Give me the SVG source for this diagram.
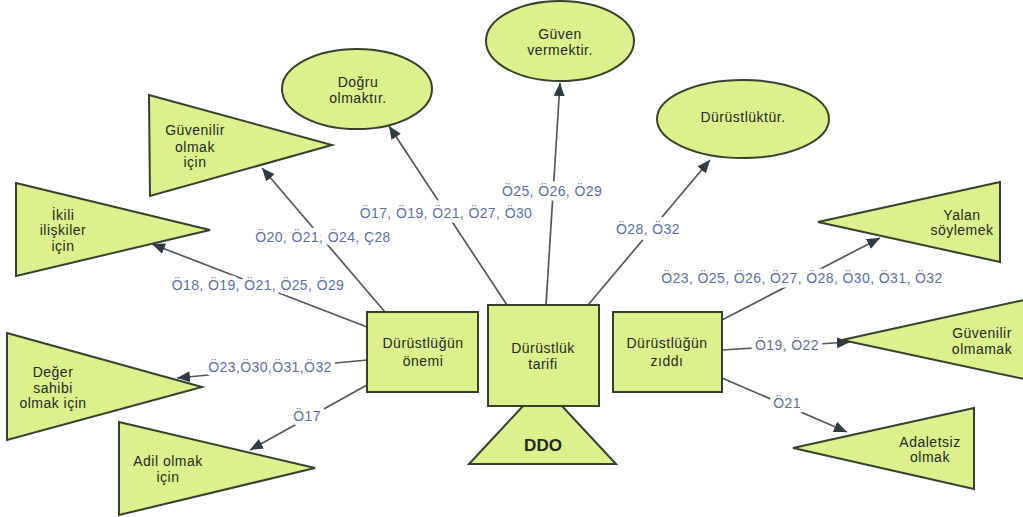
<svg xmlns="http://www.w3.org/2000/svg" width="1023" height="517" viewBox="0 0 1023 517">
  <style>
    .shape { fill: #dcf08e; stroke: #34412c; stroke-width: 2; }
    .txt { font-family: "Liberation Sans", Arial, sans-serif; font-size: 14px; letter-spacing: 0.5px; fill: #1f2a1c; text-anchor: middle; }
    .big { font-family: "Liberation Sans", Arial, sans-serif; font-size: 17px; font-weight: bold; fill: #1f2a1c; text-anchor: middle; }
    .edge { stroke: #52585d; stroke-width: 1.7; fill: none; marker-end: url(#arrow); }
    .lbl { font-family: "Liberation Sans", Arial, sans-serif; font-size: 14px; letter-spacing: 0.4px; fill: #5b6ea6; text-anchor: middle;
           stroke: #ffffff; stroke-width: 9; stroke-linejoin: round; paint-order: stroke; }
  </style>
  <defs>
    <marker id="arrow" markerUnits="userSpaceOnUse" markerWidth="14" markerHeight="12" refX="13" refY="5.5" orient="auto">
      <path d="M0,0 L13,5.5 L0,11 Z" fill="#2e3b42"/>
    </marker>
  </defs>
  <rect width="1023" height="517" fill="#ffffff"/>

  <!-- connectors with their labels -->
  <g id="connectors">
    <line class="edge" x1="385" y1="312" x2="262" y2="168"/>
    <line class="edge" x1="367" y1="327" x2="152" y2="244"/>
    <line class="edge" x1="367" y1="360" x2="177" y2="378"/>
    <line class="edge" x1="367" y1="385" x2="250" y2="450"/>
    <line class="edge" x1="507" y1="305" x2="389" y2="126"/>
    <line class="edge" x1="546" y1="305" x2="560" y2="83"/>
    <line class="edge" x1="588" y1="305" x2="710" y2="160"/>
    <line class="edge" x1="722" y1="320" x2="880" y2="238"/>
    <line class="edge" x1="722" y1="350" x2="850" y2="342"/>
    <line class="edge" x1="722" y1="378" x2="847" y2="432"/>

    <text class="lbl" x="323" y="242">Ö20, Ö21, Ö24, Ç28</text>
    <text class="lbl" x="258" y="290">Ö18, Ö19, Ö21, Ö25, Ö29</text>
    <text class="lbl" x="270" y="372">Ö23,Ö30,Ö31,Ö32</text>
    <text class="lbl" x="307" y="421">Ö17</text>
    <text class="lbl" x="446" y="218">Ö17, Ö19, Ö21, Ö27, Ö30</text>
    <text class="lbl" x="552" y="196">Ö25, Ö26, Ö29</text>
    <text class="lbl" x="648" y="234">Ö28, Ö32</text>
    <text class="lbl" x="802" y="283">Ö23, Ö25, Ö26, Ö27, Ö28, Ö30, Ö31, Ö32</text>
    <text class="lbl" x="787" y="350">Ö19, Ö22</text>
    <text class="lbl" x="787" y="408">Ö21</text>
  </g>

  <!-- central boxes -->
  <g id="onemi">
    <rect class="shape" x="367" y="312" width="111" height="80"/>
    <text class="txt" x="423" y="348">Dürüstlüğün</text>
    <text class="txt" x="423" y="366">önemi</text>
  </g>
  <g id="tarifi">
    <rect class="shape" x="488" y="305" width="111" height="101"/>
    <text class="txt" x="543" y="353">Dürüstlük</text>
    <text class="txt" x="543" y="369">tarifi</text>
  </g>
  <g id="ziddi">
    <rect class="shape" x="613" y="312" width="109" height="80"/>
    <text class="txt" x="667" y="348">Dürüstlüğün</text>
    <text class="txt" x="667" y="366">zıddı</text>
  </g>
  <g id="ddo">
    <polygon class="shape" points="523,406 562,406 616,464 469,464"/>
    <text class="big" x="543" y="451">DDO</text>
  </g>

  <!-- ellipses on top -->
  <g id="dogru">
    <ellipse class="shape" cx="357" cy="89" rx="75" ry="40"/>
    <text class="txt" x="358" y="87">Doğru</text>
    <text class="txt" x="358" y="103">olmaktır.</text>
  </g>
  <g id="guven">
    <ellipse class="shape" cx="560" cy="41" rx="74" ry="40"/>
    <text class="txt" x="560" y="39">Güven</text>
    <text class="txt" x="560" y="55">vermektir.</text>
  </g>
  <g id="durustluktur">
    <ellipse class="shape" cx="743" cy="119" rx="86" ry="39"/>
    <text class="txt" x="743" y="122">Dürüstlüktür.</text>
  </g>

  <!-- left triangles -->
  <g id="guvenilir-olmak">
    <polygon class="shape" points="149,95 332,145 150,196"/>
    <text class="txt" x="195" y="135">Güvenilir</text>
    <text class="txt" x="195" y="152">olmak</text>
    <text class="txt" x="195" y="167">için</text>
  </g>
  <g id="ikili">
    <polygon class="shape" points="16,183 210,230 16,276"/>
    <text class="txt" x="63" y="220">İkili</text>
    <text class="txt" x="63" y="235">ilişkiler</text>
    <text class="txt" x="63" y="251">için</text>
  </g>
  <g id="deger">
    <polygon class="shape" points="7,333 202,387 7,440"/>
    <text class="txt" x="53" y="377">Değer</text>
    <text class="txt" x="53" y="393">sahibi</text>
    <text class="txt" x="53" y="408">olmak için</text>
  </g>
  <g id="adil">
    <polygon class="shape" points="119,422 315,468 119,515"/>
    <text class="txt" x="168" y="466">Adil olmak</text>
    <text class="txt" x="168" y="482">için</text>
  </g>

  <!-- right triangles -->
  <g id="yalan">
    <polygon class="shape" points="818,222 1000,182 1000,262"/>
    <text class="txt" x="962" y="220">Yalan</text>
    <text class="txt" x="962" y="235">söylemek</text>
  </g>
  <g id="guvenilir-olmamak">
    <polygon class="shape" points="842,340 1024,300 1024,379"/>
    <text class="txt" x="982" y="338">Güvenilir</text>
    <text class="txt" x="982" y="354">olmamak</text>
  </g>
  <g id="adaletsiz">
    <polygon class="shape" points="793,448 974,408 974,489"/>
    <text class="txt" x="930" y="447">Adaletsiz</text>
    <text class="txt" x="930" y="462">olmak</text>
  </g>
</svg>
